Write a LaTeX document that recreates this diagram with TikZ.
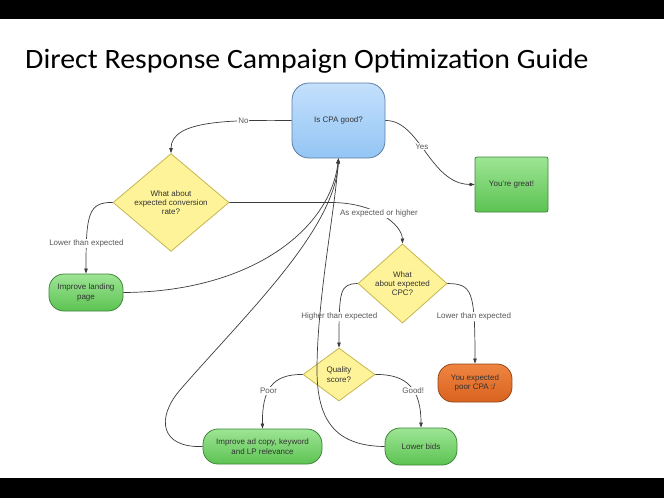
\documentclass[tikz,border=0pt]{standalone}
\usepackage{fontspec}
\setmainfont{Liberation Sans}
\newfontfamily\titlefont[FakeStretch=1.065]{Carlito}
\usepackage{tikz}
\usetikzlibrary{shapes,arrows.meta}

\definecolor{cpaTop}{HTML}{C4E0FC}
\definecolor{cpaBot}{HTML}{93C5F4}
\definecolor{cpaLine}{HTML}{5D7FA6}
\definecolor{okTop}{HTML}{9DE595}
\definecolor{okBot}{HTML}{5DC352}
\definecolor{okLine}{HTML}{3F863A}
\definecolor{askFill}{HTML}{FFF39A}
\definecolor{askLine}{HTML}{C6B64E}
\definecolor{badTop}{HTML}{EE8541}
\definecolor{badBot}{HTML}{D9621F}
\definecolor{badLine}{HTML}{944719}
\definecolor{edgeGray}{HTML}{3C3C3C}

\begin{document}
\begin{tikzpicture}[x=1pt,y=-1pt,>={Triangle[length=5pt,width=3.5pt]},
    txt/.style={font=\fontsize{8}{9.3}\selectfont, text=black!80, align=center, inner sep=0pt},
    question/.style={txt, diamond, fill=askFill, draw=askLine, line width=0.8pt},
    pill/.style={txt, rectangle, rounded corners=15pt, top color=okTop, bottom color=okBot, draw=okLine, line width=0.8pt},
    lbl/.style={font=\fontsize{8}{9}\selectfont, text=black!65, fill=white, inner sep=1pt},
    link/.style={->, draw=edgeGray, line width=0.7pt}]

        % frame
        \useasboundingbox (0,0) rectangle (664,498);
        \fill[black] (0,0) rectangle (664,19);
        \fill[black] (0,478) rectangle (664,498);
        \node[anchor=base west, inner sep=0pt, font=\titlefont\fontsize{28}{30}\selectfont] (title) at (25,68) {Direct Response Campaign Optimization Guide};

        % boxes
        \node[txt, rectangle, rounded corners=17pt, minimum width=93pt, minimum height=75pt, top color=cpaTop, bottom color=cpaBot, draw=cpaLine, line width=0.8pt] (cpa) at (338.5,120.5) {Is CPA good?};
        \node[txt, rectangle, rounded corners=2pt, minimum width=73pt, minimum height=55pt, top color=okTop, bottom color=okBot, draw=okLine, line width=0.8pt] (great) at (511.5,184.5) {You're great!};
        \node[question, minimum width=116pt, minimum height=71pt] (conv) at (171,202.5) {What about\\expected conversion\\rate?};
        \node[pill, minimum width=74pt, minimum height=37pt] (landing) at (86,292.5) {Improve landing\\page};
        \node[question, minimum width=89pt, minimum height=53pt] (cpc) at (402.5,283.5) {What\\about expected\\CPC?};
        \node[question, minimum width=72pt, minimum height=53pt] (quality) at (339,374.5) {Quality\\score?};
        \node[txt, rectangle, rounded corners=15pt, minimum width=74pt, minimum height=38pt, top color=badTop, bottom color=badBot, draw=badLine, line width=0.8pt] (poorcpa) at (475,383) {You expected\\poor CPA :/};
        \node[pill, minimum width=119pt, minimum height=35pt] (adcopy) at (262.5,446.5) {Improve ad copy, keyword\\and LP relevance};
        \node[pill, minimum width=72pt, minimum height=37pt] (bids) at (421,446.5) {Lower bids};

        % answers
        \draw[link] (cpa.west) .. controls (230,120) and (171,120) .. node[lbl, pos=0.27] {No} (conv.north);
        \draw[link] (cpa.east) .. controls (420,120) and (430,184) .. node[lbl, pos=0.44] {Yes} (great.west);
        \draw[link] (conv.west) .. controls (88,202) and (86,215) .. node[lbl, pos=0.8] {Lower than expected} (landing.north);
        \draw[link] (conv.east) -- ++(100,0) .. controls (375,202) and (402,225) .. node[lbl, pos=0.45] {As expected or higher} (cpc.north);
        \draw[link] (cpc.west) .. controls (340,284) and (339,290) .. node[lbl, pos=0.78] {Higher than expected} (quality.north);
        \draw[link] (cpc.east) .. controls (472,284) and (475,290) .. node[lbl, pos=0.72] {Lower than expected} (poorcpa.north);
        \draw[link] (quality.west) .. controls (272,374) and (262,390) .. node[lbl, pos=0.57] {Poor} (adcopy.north);
        \draw[link] (quality.east) .. controls (408,374) and (421,390) .. node[lbl, pos=0.57] {Good!} (bids.north);

        % back to the start
        \draw[link] (landing.east) .. controls (250,292) and (330,230) .. (cpa.south);
        \draw[link] (adcopy.west) .. controls (160,448) and (156,418) .. (180,390) .. controls (245,315) and (335,230) .. (cpa.south);
        \draw[link] (bids.west) .. controls (335,446) and (317,420) .. (317,370) .. controls (317,300) and (335,210) .. (cpa.south);
\end{tikzpicture}
\end{document}
